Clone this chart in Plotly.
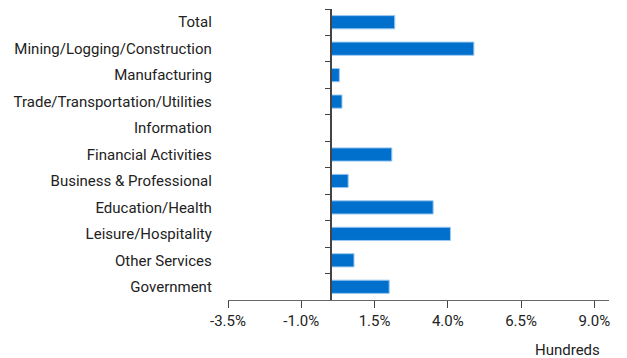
import plotly.graph_objects as go

categories = ["Total", "Mining/Logging/Construction", "Manufacturing",
              "Trade/Transportation/Utilities", "Information", "Financial Activities",
              "Business & Professional", "Education/Health", "Leisure/Hospitality",
              "Other Services", "Government"]
values = [2.19, 4.89, 0.30, 0.39, 0.0, 2.09, 0.60, 3.50, 4.09, 0.80, 2.00]
tick_vals = [-3.5, -1.0, 1.5, 4.0, 6.5, 9.0]
tick_text = ["-3.5%", "-1.0%", "1.5%", "4.0%", "6.5%", "9.0%"]

x_range = [-3.5, 9.5]
zero_frac = (0 - x_range[0]) / (x_range[1] - x_range[0])

font = dict(family="Roboto", size=15, color="#222222")

fig = go.Figure(go.Bar(
    y=categories, x=values, orientation="h",
    marker=dict(color="#0070CC", line=dict(color="#9CC8F0", width=1)),
))

fig.update_layout(
    width=627, height=358,
    margin=dict(l=228, r=18, t=9, b=58),
    paper_bgcolor="white", plot_bgcolor="white",
    bargap=0.5, showlegend=False, font=font,
    xaxis=dict(range=x_range, tickvals=tick_vals, ticktext=tick_text,
               showgrid=False, zeroline=False, showline=True,
               linecolor="#666666", linewidth=1, ticks="outside",
               ticklen=7, tickcolor="#444444", tickfont=font),
    yaxis=dict(type="category", categoryorder="array", categoryarray=categories,
               autorange="reversed", anchor="free", position=zero_frac,
               showgrid=False, zeroline=False, showline=True,
               linecolor="#444444", linewidth=1.5, ticks="outside",
               tickson="boundaries", ticklen=5, tickcolor="#444444",
               ticklabelstandoff=115, tickfont=font),
    annotations=[dict(text="Hundreds", xref="paper", yref="paper",
                      x=0.982, y=-0.172, xanchor="right", yanchor="middle",
                      showarrow=False, font=font)],
)

fig.write_html("out.html")
